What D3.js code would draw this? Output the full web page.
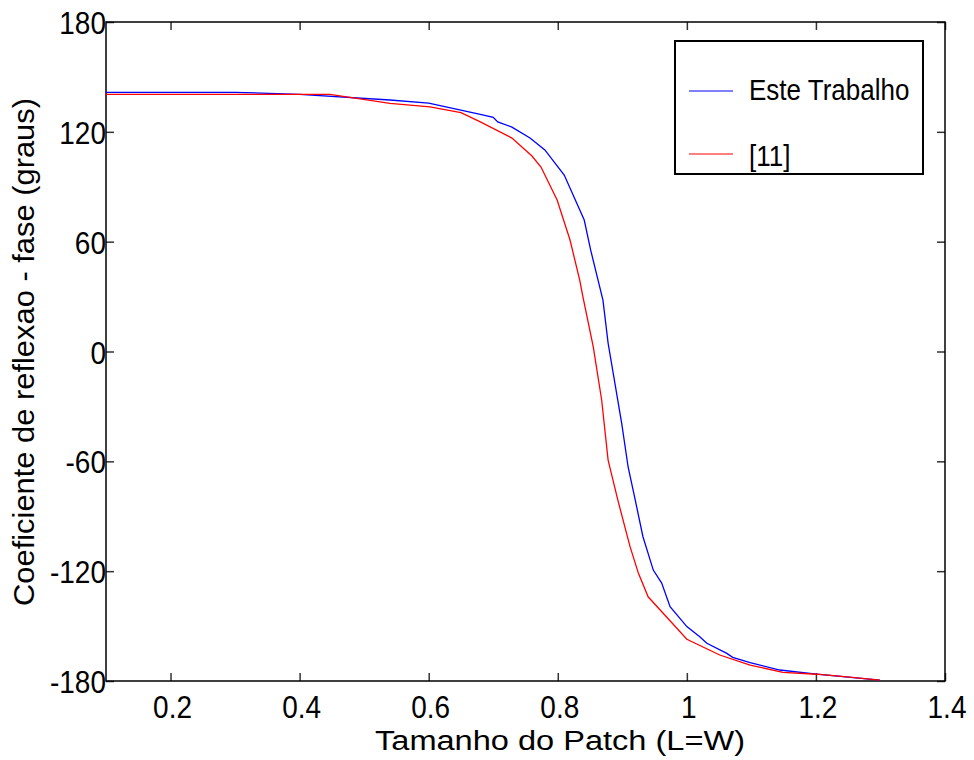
<!DOCTYPE html>
<html>
<head>
<meta charset="utf-8">
<script src="https://cdn.jsdelivr.net/npm/d3@7"></script>
<style>
  body { margin: 0; background: #fff; }
  text { font-family: "Liberation Sans", Arial, sans-serif; fill: #000; }
</style>
</head>
<body>
<svg id="chart" width="974" height="760"></svg>
<script>
// data
var xBlue = [0.1, 0.3, 0.4, 0.54, 0.6, 0.68, 0.70, 0.707, 0.729, 0.757, 0.78, 0.81, 0.841, 0.851, 0.87, 0.878, 0.899, 0.909, 0.92, 0.932, 0.948, 0.961, 0.974, 1.0, 1.02, 1.031, 1.062, 1.071, 1.098, 1.144, 1.201, 1.299];
var yBlue = [141.6, 141.6, 140.5, 137.4, 135.7, 129.6, 127.9, 125.4, 122.6, 116.6, 110.1, 96.4, 71.8, 55.4, 28.1, 4.6, -39.1, -63.1, -81.1, -101.2, -119.4, -126.5, -139.4, -150.3, -155.8, -159.4, -164.9, -167.1, -170.0, -174.0, -176.2, -179.5];

var xRed = [0.1, 0.447, 0.54, 0.602, 0.65, 0.68, 0.729, 0.76, 0.774, 0.799, 0.819, 0.834, 0.839, 0.855, 0.868, 0.878, 0.893, 0.912, 0.925, 0.94, 1.0, 1.051, 1.098, 1.149, 1.201, 1.248, 1.299];
var yRed = [140.5, 140.5, 135.6, 133.6, 130.5, 125.4, 116.6, 106.8, 100.8, 82.8, 60.9, 39.0, 29.8, 2.5, -26.5, -59.3, -81.1, -106.6, -121.2, -134.0, -157.2, -165.8, -171.3, -175.3, -176.3, -177.7, -179.5];

var xTicks = [0.2, 0.4, 0.6, 0.8, 1, 1.2, 1.4];
var yTicks = [-180, -120, -60, 0, 60, 120, 180];
var seriesNames = ["Este Trabalho", "[11]"];
var seriesColors = ["#0000ff", "#ff0000"];

// plot box (don't call these top/left, window.top is read only)
var pL = 106, pR = 945, pT = 22, pB = 681;
var stretch = 1.12; // text in the original is a bit taller than wide

var svg = d3.select("#chart");

var x = d3.scaleLinear().domain([0.1, 1.4]).range([pL, pR]);
var y = d3.scaleLinear().domain([-180, 180]).range([pB, pT]);

// inner ticks on all four sides
svg.append("g").attr("transform", "translate(0," + pB + ")")
    .call(d3.axisBottom(x).tickValues(xTicks).tickSize(-8).tickFormat(""))
    .call(g => g.select(".domain").remove());
svg.append("g").attr("transform", "translate(0," + pT + ")")
    .call(d3.axisTop(x).tickValues(xTicks).tickSize(-8).tickFormat(""))
    .call(g => g.select(".domain").remove());
svg.append("g").attr("transform", "translate(" + pL + ",0)")
    .call(d3.axisLeft(y).tickValues(yTicks).tickSize(-8).tickFormat(""))
    .call(g => g.select(".domain").remove());
svg.append("g").attr("transform", "translate(" + pR + ",0)")
    .call(d3.axisRight(y).tickValues(yTicks).tickSize(-8).tickFormat(""))
    .call(g => g.select(".domain").remove());
svg.selectAll(".tick line").attr("stroke", "#333").attr("stroke-width", 1.5);

// frame
svg.append("rect")
    .attr("x", pL).attr("y", pT)
    .attr("width", pR - pL).attr("height", pB - pT)
    .attr("fill", "none").attr("stroke", "#000").attr("stroke-width", 1.5);

// tick labels
svg.selectAll(".xl").data(xTicks).enter().append("text")
    .attr("transform", d => "translate(" + (x(d) + 2) + ",718) scale(1," + stretch + ")")
    .attr("text-anchor", "middle").attr("font-size", 28)
    .text(d => d);
svg.selectAll(".yl").data(yTicks).enter().append("text")
    .attr("transform", d => "translate(106," + (y(d) + 12) + ") scale(1," + stretch + ")")
    .attr("text-anchor", "end").attr("font-size", 28)
    .text(d => d);

// axis titles
svg.append("text")
    .attr("x", 560).attr("y", 750)
    .attr("text-anchor", "middle").attr("font-size", 27)
    .attr("textLength", 370).attr("lengthAdjust", "spacingAndGlyphs")
    .text("Tamanho do Patch (L=W)");
svg.append("text")
    .attr("transform", "translate(34,352) rotate(-90)")
    .attr("text-anchor", "middle").attr("font-size", 30)
    .attr("textLength", 508).attr("lengthAdjust", "spacingAndGlyphs")
    .text("Coeficiente de reflexao - fase (graus)");

// curves
var line = d3.line().x(d => x(d[0])).y(d => y(d[1]));
var blue = xBlue.map((v, i) => [v, yBlue[i]]);
var red = xRed.map((v, i) => [v, yRed[i]]);
svg.append("path").datum(blue).attr("d", line)
    .attr("fill", "none").attr("stroke", seriesColors[0]).attr("stroke-width", 1.3);
svg.append("path").datum(red).attr("d", line)
    .attr("fill", "none").attr("stroke", seriesColors[1]).attr("stroke-width", 1.3);

// legend
var lg = svg.append("g");
lg.append("rect").attr("x", 675).attr("y", 41).attr("width", 248).attr("height", 133)
    .attr("fill", "#fff").attr("stroke", "#000").attr("stroke-width", 2);
var rows = [91, 154];
seriesNames.forEach(function(n, i) {
    lg.append("line").attr("x1", 689).attr("x2", 733)
        .attr("y1", rows[i]).attr("y2", rows[i])
        .attr("stroke", seriesColors[i]).attr("stroke-width", 1.2);
    lg.append("text")
        .attr("transform", "translate(749," + (rows[i] + (i == 0 ? 9 : 12)) + ") scale(1," + stretch + ")")
        .attr("font-size", 26).text(n);
});
</script>
</body>
</html>
